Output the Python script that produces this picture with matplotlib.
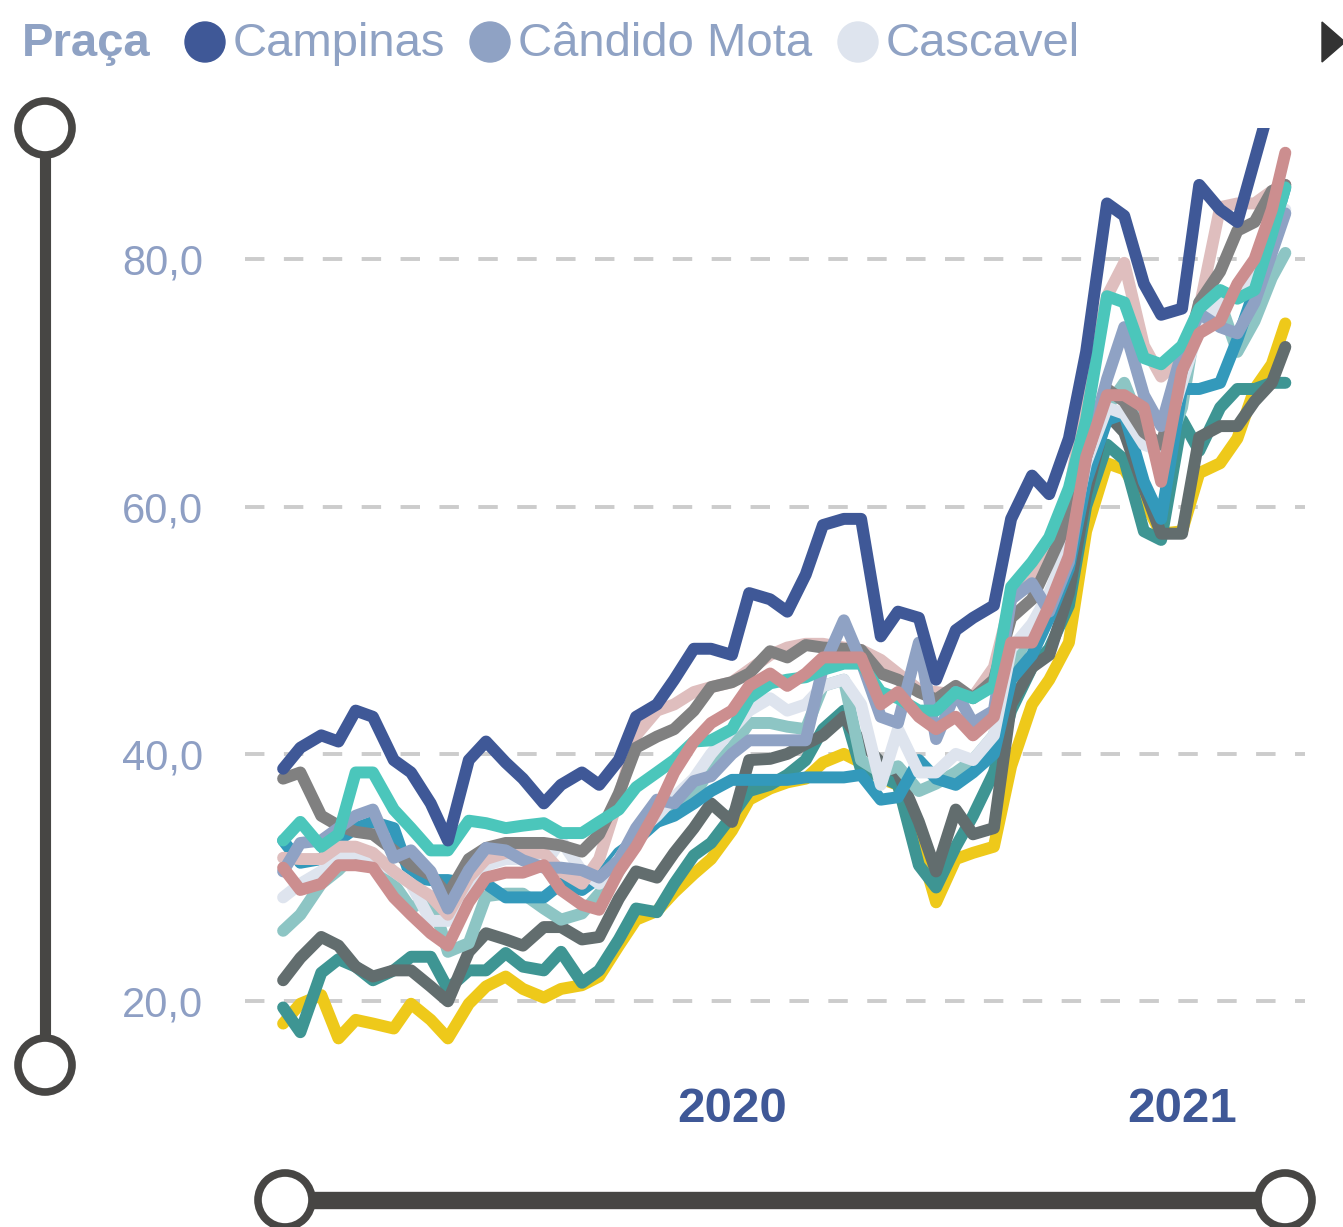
import matplotlib.pyplot as plt
import matplotlib.patches as mpatches
import pandas as pd

# semi-monthly samples, Jan 2019 .. late Mar 2021
dates = list(pd.date_range('2019-01-01', '2021-03-15', freq='SMS')) + [pd.Timestamp('2021-03-26')]

campinas = [38.8, 40.5, 41.5, 41.0, 43.5, 43.0, 39.5, 38.5, 36.0, 33.0,
            39.5, 41.0, 39.3, 38.0, 36.0, 37.5, 38.5, 37.5, 39.5, 43.0,
            44.0, 46.0, 48.5, 48.5, 48.0, 53.0, 52.5, 51.5, 54.5, 58.5,
            59.0, 59.0, 49.5, 51.5, 51.0, 46.0, 50.0, 51.0, 52.0, 59.0,
            62.5, 61.0, 65.5, 72.5, 84.5, 83.5, 78.0, 75.5, 76.0, 86.0,
            84.0, 83.0, 88.0, 93.0, 96.0]
candido_mota = [30.5, 32.8, 33.0, 34.0, 35.0, 35.5, 31.6, 32.2, 30.5, 27.5,
                30.6, 32.4, 32.2, 31.4, 30.8, 30.8, 30.6, 30.0, 31.4, 34.0,
                36.3, 36.0, 37.8, 38.2, 40.0, 41.1, 41.1, 41.1, 41.1, 47.0,
                50.8, 47.5, 43.0, 42.5, 49.0, 41.2, 45.0, 42.5, 43.5, 52.5,
                53.8, 51.5, 55.5, 64.0, 70.3, 74.5, 69.0, 66.5, 72.5, 75.6,
                74.5, 74.0, 76.5, 80.5, 83.7]
cascavel = [28.4, 29.5, 30.5, 31.5, 32.0, 31.5, 30.5, 29.5, 26.5, 26.5,
            29.5, 31.0, 31.5, 31.5, 31.0, 33.0, 30.5, 29.5, 31.5, 33.5,
            35.0, 36.5, 38.0, 40.0, 42.0, 43.5, 44.5, 43.5, 44.0, 45.5,
            46.0, 44.0, 37.5, 42.0, 38.5, 38.5, 40.0, 39.5, 41.5, 48.5,
            50.5, 53.0, 57.0, 63.5, 68.0, 67.5, 65.0, 64.5, 70.0, 74.5,
            76.5, 77.0, 78.5, 82.0, 84.0]
turquesa = [33.0, 34.5, 32.5, 33.5, 38.5, 38.5, 35.5, 34.0, 32.2, 32.2,
            34.6, 34.4, 34.0, 34.2, 34.4, 33.6, 33.6, 34.5, 35.5, 37.3,
            38.5, 39.5, 41.0, 41.1, 42.0, 44.5, 45.7, 46.0, 46.2, 46.8,
            47.3, 47.3, 45.0, 44.5, 43.5, 43.5, 45.0, 44.5, 45.5, 53.5,
            55.5, 57.5, 61.5, 67.0, 77.0, 76.5, 72.0, 71.5, 73.0, 76.0,
            77.5, 76.8, 77.5, 82.0, 85.8]
cinza = [38.0, 38.5, 35.0, 34.2, 33.7, 33.5, 32.2, 31.0, 30.2, 28.6,
         31.5, 32.4, 32.8, 32.8, 32.8, 32.6, 32.1, 33.5, 36.8, 40.5,
         41.4, 42.0, 43.5, 45.4, 45.8, 46.5, 48.3, 47.8, 48.8, 48.6,
         48.5, 48.4, 46.5, 46.0, 45.0, 44.4, 45.5, 44.5, 46.0, 51.0,
         52.5, 55.5, 59.0, 64.0, 69.5, 68.5, 66.0, 65.0, 71.0, 76.5,
         79.0, 82.3, 83.0, 85.5, 86.0]
azul = [33.0, 31.2, 31.5, 33.0, 34.0, 34.5, 34.0, 30.0, 29.8, 29.8,
        29.5, 29.5, 28.4, 28.4, 28.4, 29.5, 29.0, 30.0, 32.0, 33.0,
        34.5, 35.0, 36.0, 37.0, 37.9, 37.9, 37.9, 37.9, 38.1, 38.1,
        38.1, 38.3, 36.3, 36.5, 39.5, 38.0, 37.5, 38.5, 40.0, 46.0,
        48.0, 51.0, 55.0, 62.0, 67.0, 67.5, 62.0, 59.0, 69.5, 69.5,
        70.0, 73.5, 77.5, 82.0, 85.8]
verde_claro = [25.7, 27.0, 29.5, 30.6, 32.0, 31.0, 29.5, 27.5, 28.5, 24.0,
               24.7, 28.5, 28.7, 28.7, 27.5, 26.6, 27.1, 28.7, 30.5, 33.3,
               34.5, 35.5, 36.5, 39.0, 40.5, 42.5, 42.5, 42.2, 42.0, 45.5,
               46.0, 39.5, 38.5, 39.0, 37.0, 37.6, 38.5, 39.5, 41.5, 47.0,
               50.0, 52.0, 56.0, 63.0, 68.0, 70.0, 66.0, 63.5, 68.0, 76.5,
               76.5, 72.5, 75.0, 78.5, 80.5]
rosa = [30.8, 29.0, 29.5, 31.0, 31.0, 30.8, 28.4, 27.0, 25.5, 24.5,
        28.0, 30.0, 30.4, 30.4, 31.0, 29.0, 27.8, 27.4, 30.5, 32.5,
        35.5, 38.5, 41.0, 42.5, 43.5, 45.5, 46.5, 45.5, 46.5, 47.8,
        47.8, 47.8, 44.0, 45.0, 43.0, 42.0, 43.0, 41.5, 43.0, 49.0,
        49.0, 52.0, 56.0, 64.0, 69.0, 69.0, 68.0, 62.0, 71.0, 74.0,
        75.0, 78.0, 80.0, 84.0, 88.6]
rosa_claro = [31.6, 31.5, 31.5, 32.5, 32.5, 32.0, 30.5, 29.5, 28.5, 27.0,
              30.0, 31.5, 32.0, 32.0, 32.0, 30.5, 29.5, 31.5, 36.5, 41.5,
              43.5, 44.0, 45.0, 45.4, 45.8, 46.8, 48.0, 48.6, 48.9, 48.9,
              48.6, 48.4, 47.6, 46.5, 45.2, 45.0, 44.8, 44.6, 47.0, 52.5,
              54.0, 57.0, 61.0, 69.0, 77.0, 79.7, 73.0, 70.5, 72.0, 76.0,
              84.2, 84.5, 84.5, 85.5, 86.0]
cinza_escuro = [21.7, 23.5, 25.2, 24.5, 22.8, 22.0, 22.5, 22.5, 21.2, 20.0,
                24.0, 25.5, 25.0, 24.5, 26.0, 26.0, 25.0, 25.2, 28.3, 30.5,
                30.0, 32.0, 34.0, 36.0, 34.5, 39.5, 39.6, 40.0, 40.8, 41.5,
                43.0, 41.0, 39.3, 38.5, 34.5, 30.5, 35.5, 33.5, 34.0, 44.0,
                47.0, 48.0, 53.0, 61.0, 67.5, 66.0, 61.5, 57.8, 57.8, 65.6,
                66.5, 66.5, 68.5, 70.0, 72.9]
verde_escuro = [19.5, 17.5, 22.3, 23.4, 22.8, 21.7, 22.5, 23.6, 23.6, 21.0,
                22.5, 22.5, 23.9, 22.8, 22.5, 24.0, 21.5, 22.5, 25.0, 27.5,
                27.2, 29.5, 31.8, 32.8, 35.0, 37.0, 37.5, 38.3, 39.5, 42.0,
                43.5, 38.7, 38.2, 37.5, 31.0, 29.2, 32.5, 35.0, 38.5, 43.5,
                47.0, 48.5, 52.0, 60.0, 65.0, 63.8, 58.0, 57.3, 67.0, 64.5,
                68.0, 69.5, 69.5, 70.0, 70.0]
amarelo = [18.2, 19.8, 20.5, 17.0, 18.5, 18.2, 17.8, 19.8, 18.5, 17.0,
           19.8, 21.2, 22.0, 21.0, 20.3, 21.0, 21.3, 22.0, 24.5, 26.6,
           27.3, 28.8, 30.3, 31.5, 33.8, 36.3, 37.2, 37.7, 38.0, 39.3,
           40.0, 39.3, 38.0, 37.5, 32.8, 28.0, 31.5, 32.0, 32.5, 39.0,
           44.0, 46.0, 49.0, 58.0, 63.5, 63.0, 60.5, 57.8, 58.0, 62.7,
           63.5, 65.5, 69.5, 71.5, 74.8]

# drawing order bottom -> top
series = [
    (amarelo, '#EEC91A'),
    (verde_escuro, '#3E9593'),
    (cinza_escuro, '#626D6E'),
    (verde_claro, '#8DC5C4'),
    (azul, '#3399BB'),
    (cascavel, '#DEE4EE'),
    (rosa_claro, '#DFBEBE'),
    (cinza, '#808080'),
    (candido_mota, '#8FA2C4'),
    (turquesa, '#4BC6BB'),
    (rosa, '#CC8E8F'),
    (campinas, '#3F5897'),
]

legend_names = ['Campinas', 'Cândido Mota', 'Cascavel']
legend_colors = ['#3F5897', '#8FA2C4', '#DEE4EE']

W, H = 1343, 1227
fig = plt.figure(figsize=(W / 100, H / 100), dpi=100)
plt.rcParams['font.family'] = ['Liberation Sans', 'DejaVu Sans']

ax = fig.add_axes([245 / W, 1 - 1065 / H, (1305 - 245) / W, (1065 - 128) / H])
for vals, col in series:
    ax.plot(dates, vals, color=col, lw=8.6, solid_joinstyle='round',
            solid_capstyle='round')

ax.set_xlim(pd.Timestamp('2018-12-01'), pd.Timestamp('2021-04-11'))
ax.set_ylim(14.85, 90.6)
ax.set_yticks([20, 40, 60, 80])
ax.set_yticklabels(['20,0', '40,0', '60,0', '80,0'])
ax.set_xticks([pd.Timestamp('2020-01-01'), pd.Timestamp('2021-01-01')])
ax.set_xticklabels(['2020', '2021'])
ax.tick_params(axis='y', length=0, pad=30, labelsize=30, labelcolor='#8E9FC4')
ax.tick_params(axis='x', length=0, pad=16, labelsize=35.5, labelcolor='#3F5897')
for lbl in ax.get_xticklabels():
    lbl.set_fontweight('bold')
ax.grid(axis='y', color='#CCCCCC', lw=2.8, dashes=(5, 5), zorder=0)
ax.set_axisbelow(True)
for s in ax.spines.values():
    s.set_visible(False)

# overlay in pixel coordinates for legend and zoom sliders
ov = fig.add_axes([0, 0, 1, 1], zorder=-1)
ov.set_xlim(0, W)
ov.set_ylim(H, 0)
ov.axis('off')

ov.text(22, 44, 'Praça', fontsize=34, fontweight='bold', color='#8FA2C4',
        ha='left', va='center')
lx = [205, 490, 858]
for x0, name, col in zip(lx, legend_names, legend_colors):
    ov.add_patch(mpatches.Circle((x0, 42), 20, color=col))
    ov.text(x0 + 28, 44, name, fontsize=34, color='#8FA2C4', ha='left', va='center')
ov.add_patch(mpatches.Polygon([(1322, 22), (1322, 62), (1345, 42)], color='#333333'))

slider = '#474644'
ov.plot([45, 45], [128, 1065], color=slider, lw=8, solid_capstyle='butt')
for yy in (128, 1065):
    ov.add_patch(mpatches.Circle((45, yy), 27, facecolor='white', edgecolor=slider, lw=5.5, zorder=3))
ov.plot([285, 1285], [1200, 1200], color=slider, lw=12.5, solid_capstyle='butt')
for xx in (285, 1285):
    ov.add_patch(mpatches.Circle((xx, 1200), 27, facecolor='white', edgecolor=slider, lw=5.5, zorder=3))

fig.savefig('out.png', dpi=100)
